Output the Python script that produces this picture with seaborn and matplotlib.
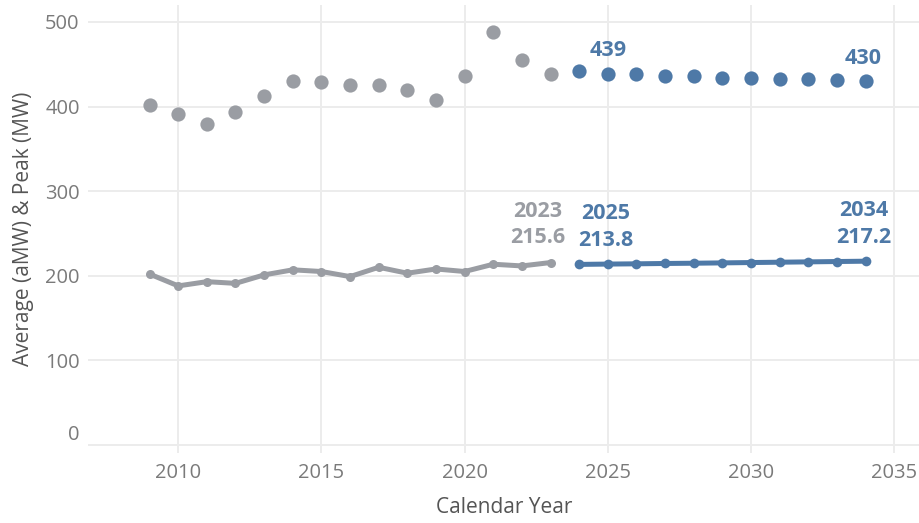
import matplotlib
matplotlib.use("Agg")
import matplotlib.pyplot as plt
import seaborn as sns
import pandas as pd

hist_years = [2009, 2010, 2011, 2012, 2013, 2014, 2015, 2016, 2017, 2018, 2019, 2020, 2021, 2022, 2023]
hist_peak = [402, 391, 379, 393, 413, 430, 429, 425, 425, 419, 408, 436, 488, 455, 438]
hist_avg = [202, 188, 193, 191, 201, 207, 205, 199, 210, 203, 208, 205, 213.6, 211.6, 215.6]

fc_years = [2024, 2025, 2026, 2027, 2028, 2029, 2030, 2031, 2032, 2033, 2034]
fc_peak = [442, 439, 438, 436, 436, 434, 434, 432, 432, 431, 430]
fc_avg = [213.4, 213.8, 214.1, 214.5, 214.8, 215.2, 215.6, 216.0, 216.4, 216.8, 217.2]

x_ticks = [2010, 2015, 2020, 2025, 2030, 2035]
y_ticks = [0, 100, 200, 300, 400, 500]

GRAY = "#9a9da3"
BLUE = "#4e79a7"
TICK = "#7a7a7a"
LABEL = "#555555"

hist = pd.DataFrame({"year": hist_years, "peak": hist_peak, "avg": hist_avg})
fc = pd.DataFrame({"year": fc_years, "peak": fc_peak, "avg": fc_avg})

sns.set_theme(style="white")
plt.rcParams["font.family"] = ["Open Sans", "DejaVu Sans"]

fig = plt.figure(figsize=(9.2, 5.23), dpi=100)
ax = fig.add_axes([88 / 920, 1 - 453 / 523, 1 - 88 / 920, (453 - 5) / 523])

sns.lineplot(data=hist, x="year", y="avg", ax=ax, color=GRAY, lw=3.6,
             marker="o", markersize=6.5, markeredgewidth=0, zorder=3)
sns.lineplot(data=fc, x="year", y="avg", ax=ax, color=BLUE, lw=3.6,
             marker="o", markersize=7, markeredgewidth=0, zorder=3)
sns.scatterplot(data=hist, x="year", y="peak", ax=ax, color=GRAY, s=105,
                linewidth=0, zorder=3)
sns.scatterplot(data=fc, x="year", y="peak", ax=ax, color=BLUE, s=105,
                linewidth=0, zorder=3)

ax.set_xlim(2006.85, 2035.9)
ax.set_ylim(-9.5, 520)
ax.set_xticks(x_ticks)
ax.set_yticks(y_ticks)
ax.grid(True, color="#ececec", lw=1.4)
ax.set_axisbelow(True)
for s in ax.spines.values():
    s.set_visible(False)
ax.tick_params(axis="both", length=0, labelsize=14.5, colors=TICK)
ax.tick_params(axis="x", pad=7)
ax.tick_params(axis="y", pad=6)
for lab in ax.get_yticklabels():
    if lab.get_text() == "0":
        lab.set_verticalalignment("bottom")

ax.set_xlabel("Calendar Year", fontsize=15, color=LABEL, labelpad=10)
ax.set_ylabel("Average (aMW) & Peak (MW)", fontsize=15, color=LABEL, labelpad=8)

def label(x, y, text, color, dx, dy, bold=True):
    ax.annotate(text, (x, y), xytext=(dx, dy), textcoords="offset pixels",
                ha="center", va="center", fontsize=15.5, color=color,
                fontweight="bold" if bold else "normal", linespacing=1.35)

label(fc_years[1], fc_peak[1], str(fc_peak[1]), BLUE, 0, 23)
label(fc_years[-1], fc_peak[-1], str(fc_peak[-1]), BLUE, -2, 23)
label(hist_years[-1], hist_avg[-1], f"{hist_years[-1]}\n{hist_avg[-1]}", GRAY, -13, 38)
label(fc_years[1], fc_avg[1], f"{fc_years[1]}\n{fc_avg[1]}", BLUE, -2, 37)
label(fc_years[-1], fc_avg[-1], f"{fc_years[-1]}\n{fc_avg[-1]}", BLUE, -2, 37)

fig.savefig("out.png", dpi=100)
